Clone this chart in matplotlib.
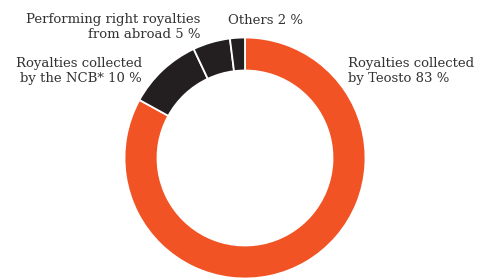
import matplotlib
matplotlib.use("Agg")
import matplotlib.pyplot as plt

labels = ["Royalties collected\nby Teosto 83 %", "Royalties collected\nby the NCB* 10 %",
          "Performing right royalties\nfrom abroad 5 %", "Others 2 %"]
values = [83, 10, 5, 2]
colors = ["#F15324", "#231F20", "#231F20", "#231F20"]

W, H = 480, 278
fig = plt.figure(figsize=(W / 100, H / 100), dpi=100)
ax = fig.add_axes([0, 0, 1, 1])

cx, cy, R = 245, H - 158, 120.5
ax.pie(values, colors=colors, startangle=90, counterclock=False, center=(cx, cy),
       radius=R, wedgeprops=dict(width=33, edgecolor="white", linewidth=1.3),
       frame=True)
ax.set_xlim(0, W)
ax.set_ylim(0, H)
ax.set_aspect("equal")
ax.axis("off")

font = dict(family="DejaVu Serif", fontsize=9.5, color="#333333", linespacing=1.15)
ax.text(348, H - 71, labels[0], ha="left", va="center", **font)
ax.text(142, H - 71, labels[1], ha="right", va="center", multialignment="right", **font)
ax.text(200, H - 27, labels[2], ha="right", va="center", multialignment="right", **font)
ax.text(228, H - 20, labels[3], ha="left", va="center", **font)

fig.savefig("out.png", dpi=100)
